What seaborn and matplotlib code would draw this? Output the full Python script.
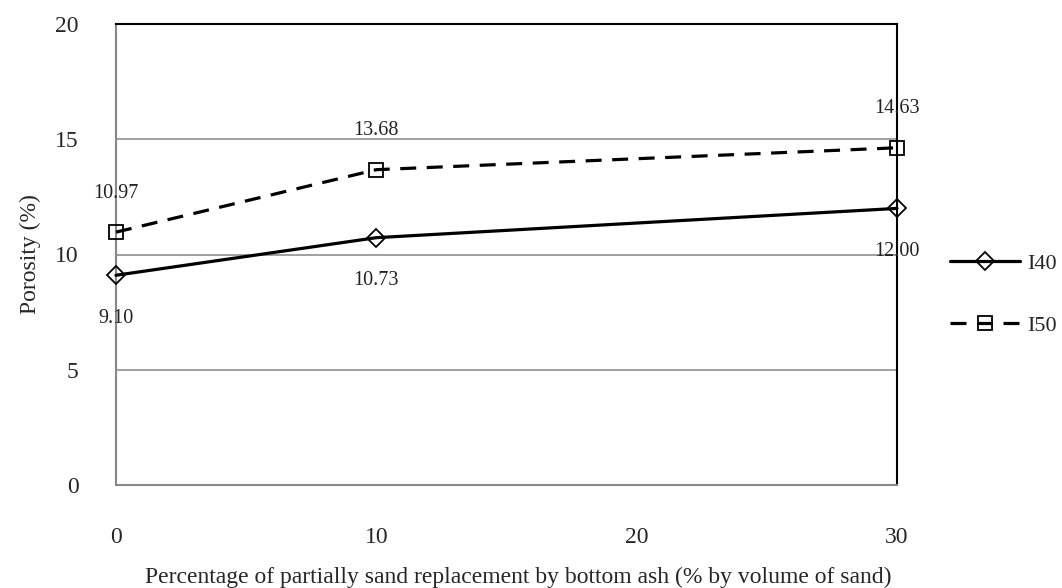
import matplotlib
matplotlib.use("Agg")
import matplotlib.pyplot as plt
import seaborn as sns
import pandas as pd

# Porosity measurements
replacement = [0, 10, 30]
i40 = [9.10, 10.73, 12.00]
i50 = [10.97, 13.68, 14.63]
series_names = ["I40", "I50"]
x_ticks = [0, 10, 20, 30]
y_ticks = [0, 5, 10, 15, 20]

sns.set_theme(style="white")
plt.rcParams["font.family"] = ["Liberation Serif", "DejaVu Serif"]

df = pd.DataFrame({
    "x": replacement * 2,
    "y": i40 + i50,
    "series": [series_names[0]] * 3 + [series_names[1]] * 3,
})

fig = plt.figure(figsize=(10.62, 5.88), dpi=100)
ax = fig.add_axes([116 / 1062, 1 - 485 / 588, (897 - 116) / 1062, (485 - 24) / 588])

sns.lineplot(data=df, x="x", y="y", style="series", ax=ax,
             color="black", linewidth=2.3,
             markers={"I40": "D", "I50": "s"},
             dashes={"I40": "", "I50": (5, 3.3)},
             markersize=9.5, markerfacecolor="none",
             markeredgecolor="black", markeredgewidth=1.3,
             legend=True, clip_on=False, zorder=5)

# Value labels
for xv, yv in zip(replacement, i40):
    ax.annotate(f"{yv:.2f}", (xv, yv), xytext=(0, -31), textcoords="offset points",
                ha="center", va="center", fontsize=14.5, color="#222222")
for xv, yv in zip(replacement, i50):
    ax.annotate(f"{yv:.2f}", (xv, yv), xytext=(0, 28), textcoords="offset points",
                ha="center", va="center", fontsize=14.5, color="#222222")

ax.set_xlim(0, 30)
ax.set_ylim(0, 20)
ax.set_xticks(x_ticks)
ax.set_yticks(y_ticks)
ax.tick_params(axis="x", length=0, pad=30, labelsize=17)
ax.tick_params(axis="y", length=0, pad=27, labelsize=17)

ax.grid(axis="y", color="#999999", linewidth=1.3)
ax.grid(axis="x", visible=False)
ax.set_axisbelow(True)

for side in ["left", "bottom"]:
    ax.spines[side].set_color("#888888")
    ax.spines[side].set_linewidth(1.5)
for side in ["top", "right"]:
    ax.spines[side].set_color("black")
    ax.spines[side].set_linewidth(1.5)

ax.set_xlabel("Percentage of partially sand replacement by bottom ash (% by volume of sand)",
              fontsize=17)
ax.xaxis.set_label_coords(0.515, -0.178)
ax.set_ylabel("Porosity (%)", fontsize=17, labelpad=10)

handles, labels = ax.get_legend_handles_labels()
ax.legend(handles, labels, loc="center left", bbox_to_anchor=(1.068, 0.413),
          frameon=False, fontsize=16, handlelength=3.15, handletextpad=0.3,
          labelspacing=1.85, borderpad=0, borderaxespad=0)

fig.savefig("out.png", dpi=100, facecolor="white")
